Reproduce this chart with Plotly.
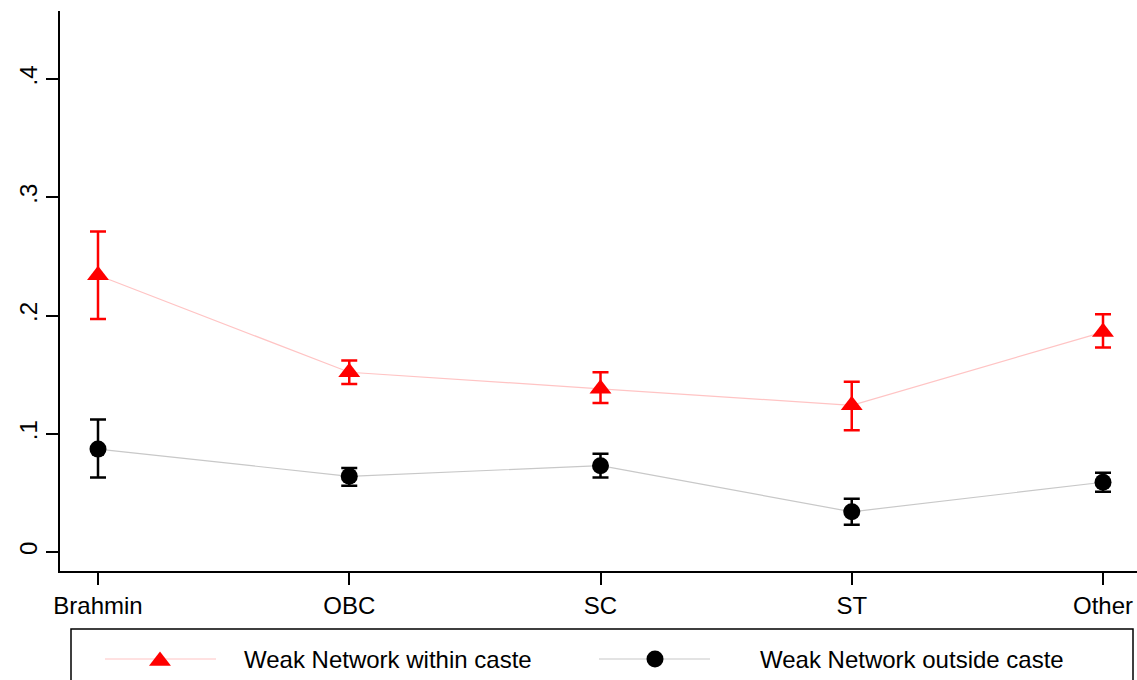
import plotly.graph_objects as go

# Caste groups on the x axis
categories = ["Brahmin", "OBC", "SC", "ST", "Other"]

# Weak network within caste: estimate and 95% CI bounds
within_est = [0.234, 0.152, 0.138, 0.124, 0.186]
within_lo = [0.197, 0.142, 0.126, 0.103, 0.173]
within_hi = [0.271, 0.162, 0.152, 0.144, 0.201]

# Weak network outside caste: estimate and 95% CI bounds
outside_est = [0.087, 0.064, 0.073, 0.034, 0.059]
outside_lo = [0.063, 0.056, 0.063, 0.023, 0.051]
outside_hi = [0.112, 0.071, 0.083, 0.045, 0.067]

ytick_vals = [0, 0.1, 0.2, 0.3, 0.4]
ytick_text = ["0", ".1", ".2", ".3", ".4"]

legend_labels = ["Weak Network within caste", "Weak Network outside caste"]

W, H = 1137, 680
FONT = "Liberation Sans, Arial, sans-serif"
RED = "#ff0000"
BLACK = "#000000"
TRI_SIZE = 19
DOT_SIZE = 17


def err(est, lo, hi):
    return dict(
        type="data",
        symmetric=False,
        array=[h - e for e, h in zip(est, hi)],
        arrayminus=[e - l for e, l in zip(est, lo)],
        thickness=2.5,
        width=8,
    )


fig = go.Figure()

# connecting lines
fig.add_trace(go.Scatter(x=categories, y=within_est, mode="lines",
                         line=dict(color="#ffc4c4", width=1.2),
                         hoverinfo="skip", showlegend=False))
fig.add_trace(go.Scatter(x=categories, y=outside_est, mode="lines",
                         line=dict(color="#c8c8c8", width=1.2),
                         hoverinfo="skip", showlegend=False))

# estimates with confidence intervals
fig.add_trace(go.Scatter(x=categories, y=within_est, mode="markers",
                         marker=dict(symbol="triangle-up", size=TRI_SIZE, color=RED),
                         error_y=dict(err(within_est, within_lo, within_hi), color=RED),
                         name=legend_labels[0], showlegend=False))
fig.add_trace(go.Scatter(x=categories, y=outside_est, mode="markers",
                         marker=dict(symbol="circle", size=DOT_SIZE, color=BLACK),
                         error_y=dict(err(outside_est, outside_lo, outside_hi), color=BLACK),
                         name=legend_labels[1], showlegend=False))

# legend key drawn on a pixel-scaled helper axis below the plot
LEG_Y = 659
fig.add_trace(go.Scatter(x=[105, 216], y=[LEG_Y, LEG_Y], mode="lines",
                         line=dict(color="#ffc4c4", width=1.2),
                         xaxis="x2", yaxis="y2", hoverinfo="skip", showlegend=False))
fig.add_trace(go.Scatter(x=[160], y=[LEG_Y + 2], mode="markers",
                         marker=dict(symbol="triangle-up", size=TRI_SIZE, color=RED),
                         xaxis="x2", yaxis="y2", hoverinfo="skip", showlegend=False))
fig.add_trace(go.Scatter(x=[599, 710], y=[LEG_Y, LEG_Y], mode="lines",
                         line=dict(color="#c8c8c8", width=1.2),
                         xaxis="x2", yaxis="y2", hoverinfo="skip", showlegend=False))
fig.add_trace(go.Scatter(x=[655], y=[LEG_Y], mode="markers",
                         marker=dict(symbol="circle", size=DOT_SIZE, color=BLACK),
                         xaxis="x2", yaxis="y2", hoverinfo="skip", showlegend=False))

annotations = [
    dict(x=242, y=LEG_Y, xref="x2", yref="y2", text=legend_labels[0],
         showarrow=False, xanchor="left", yanchor="middle",
         font=dict(family=FONT, size=24, color=BLACK)),
    dict(x=758, y=LEG_Y, xref="x2", yref="y2", text=legend_labels[1],
         showarrow=False, xanchor="left", yanchor="middle",
         font=dict(family=FONT, size=24, color=BLACK)),
]

# plot area in pixels: x 60..1137, y 11..571
y_dom = [(H - 571) / H, (H - 11) / H]
px_per_unit = (1103 - 98) / 4

fig.update_layout(
    width=W, height=H,
    margin=dict(l=0, r=0, t=0, b=0),
    paper_bgcolor="white", plot_bgcolor="white",
    template="none",
    showlegend=False,
    font=dict(family=FONT, size=24, color=BLACK),
    xaxis=dict(
        domain=[60 / W, 1],
        type="category",
        range=[-(98 - 60) / px_per_unit, (W - 98) / px_per_unit],
        showline=True, linecolor=BLACK, linewidth=1.5,
        ticks="outside", ticklen=12, tickwidth=1.5, tickcolor=BLACK,
        showgrid=False, zeroline=False, automargin=False,
        tickfont=dict(family=FONT, size=24, color=BLACK),
    ),
    yaxis=dict(
        domain=y_dom,
        range=[-(571 - 552) / 1182.5, (552 - 11) / 1182.5],
        tickvals=ytick_vals, ticktext=ytick_text,
        tickangle=-90,
        showline=True, linecolor=BLACK, linewidth=1.5,
        ticks="outside", ticklen=12, tickwidth=1.5, tickcolor=BLACK,
        showgrid=False, zeroline=False, automargin=False,
        tickfont=dict(family=FONT, size=24, color=BLACK),
    ),
    xaxis2=dict(domain=[0, 1], range=[0, W], visible=False, fixedrange=True),
    yaxis2=dict(domain=[0, (H - 629) / H], range=[H, 629], visible=False,
                fixedrange=True),
    shapes=[dict(type="rect", xref="paper", yref="paper",
                 x0=71 / W, x1=1133 / W, y0=-0.05, y1=(H - 629) / H,
                 line=dict(color=BLACK, width=1.5), fillcolor="rgba(0,0,0,0)")],
    annotations=annotations,
)

fig.write_html("out.html")
